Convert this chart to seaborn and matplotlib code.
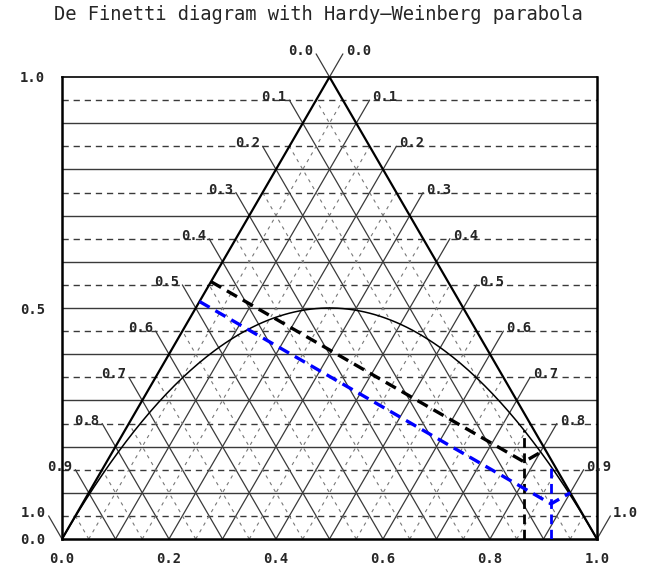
import numpy as np
import pandas as pd
import matplotlib
matplotlib.use("Agg")
import matplotlib.pyplot as plt
import seaborn as sns

# genotype frequencies (AA, AB, BB) of the two samples shown
sample_AA = [0.053, 0.048]
sample_AB = [0.167, 0.076]
sample_BB = [0.780, 0.876]
sample_colors = ["black", "blue"]

# labels along the two upper sides of the triangle (apex -> base corner)
side_labels = ["0.0", "0.1", "0.2", "0.3", "0.4", "0.5",
               "0.6", "0.7", "0.8", "0.9", "1.0"]
x_ticks = [0.0, 0.2, 0.4, 0.6, 0.8, 1.0]
y_ticks = [0.0, 0.5, 1.0]

# Hardy-Weinberg parabola: heterozygote freq = 2pq
hw_q = np.linspace(0, 1, 201)
hw_df = pd.DataFrame({"q": hw_q, "H": 2 * hw_q * (1 - hw_q)})

MONO = "DejaVu Sans Mono"

sns.set_style("white")
plt.rcParams["font.family"] = MONO

fig = plt.figure(figsize=(6.49, 5.68), dpi=100)
ax = fig.add_axes([62 / 649, 1 - 539 / 568, 535 / 649, 462 / 568])
ax.set_xlim(0, 1)
ax.set_ylim(0, 1)

grid_col = "#3a3a3a"
# horizontal lines across the whole box
major = np.round(np.arange(0.1, 1.0, 0.1), 2)
minor = np.round(np.arange(0.05, 1.0, 0.1), 2)
ax.hlines(major, 0, 1, color=grid_col, lw=1.0, zorder=1)
ax.hlines(minor, 0, 1, color=grid_col, lw=1.0, linestyles=(0, (4.5, 3.5)), zorder=1)

# grid inside the triangle, parallel to both sides
for b in major:
    ax.plot([b, (1 + b) / 2], [0, 1 - b], color=grid_col, lw=0.9, zorder=1)
    ax.plot([b, b / 2], [0, b], color=grid_col, lw=0.9, zorder=1)
for b in minor:
    ax.plot([b, (1 + b) / 2], [0, 1 - b], color="#777777", lw=0.8,
            ls=(0, (3, 4)), zorder=1)
    ax.plot([b, b / 2], [0, b], color="#777777", lw=0.8,
            ls=(0, (3, 4)), zorder=1)

# triangle outline
ax.plot([0, 0.5, 1], [0, 1, 0], color="black", lw=1.6, zorder=3)

# side ticks and labels
for k, lab in enumerate(side_labels):
    h = 1 - k / 10
    xl, xr = h / 2, 1 - h / 2
    ax.plot([xl, xl - 0.025], [h, h + 0.05], color=grid_col, lw=0.9, clip_on=False)
    ax.plot([xr, xr + 0.025], [h, h + 0.05], color=grid_col, lw=0.9, clip_on=False)
    ax.annotate(lab, (xl - 0.025, h + 0.05), xytext=(-2, -3), textcoords="offset points",
                ha="right", va="bottom", fontsize=10, fontweight="bold",
                annotation_clip=False)
    ax.annotate(lab, (xr + 0.025, h + 0.05), xytext=(2, -3), textcoords="offset points",
                ha="left", va="bottom", fontsize=10, fontweight="bold",
                annotation_clip=False)

# HW parabola
sns.lineplot(data=hw_df, x="q", y="H", ax=ax, color="black", lw=1.1, zorder=4)

# samples: perpendiculars to the sides and vertical to the parabola
s3 = np.sqrt(3) / 2
for aa, ab, bb, col in zip(sample_AA, sample_AB, sample_BB, sample_colors):
    px = bb + ab / 2
    py = ab
    X, Y = px, py * s3
    t = X * 0.5 + Y * s3
    t2 = (X - 1) * -0.5 + Y * s3
    ax.plot([t * 0.5, px, 1 - t2 * 0.5], [t, py, t2], color=col, lw=2.4,
            ls=(0, (3.5, 2)), zorder=5)
    ax.plot([px, px], [0, 2 * px * (1 - px)], color=col, lw=2.0,
            ls=(0, (3.5, 2)), zorder=5)

ax.set_xticks(x_ticks)
ax.set_yticks(y_ticks)
ax.set_xticklabels([f"{v:.1f}" for v in x_ticks])
ax.set_yticklabels([f"{v:.1f}" for v in y_ticks])
ax.tick_params(direction="out", length=7, width=1.2, color="black",
               labelsize=10, pad=5)
ax.tick_params(axis="x", pad=2.5)
for t in ax.get_xticklabels() + ax.get_yticklabels():
    t.set_fontweight("bold")
ax.set_xlabel("")
ax.set_ylabel("")
for side in ["left", "right", "bottom"]:
    ax.spines[side].set_linewidth(1.8)
    ax.spines[side].set_color("black")
ax.spines["top"].set_linewidth(1.2)
ax.spines["top"].set_color("black")

fig.text(0.49, 1 - 15 / 568, "De Finetti diagram with Hardy\u2013Weinberg parabola",
         ha="center", va="center", fontsize=13.5, family=MONO)

fig.savefig("out.png", dpi=100)
